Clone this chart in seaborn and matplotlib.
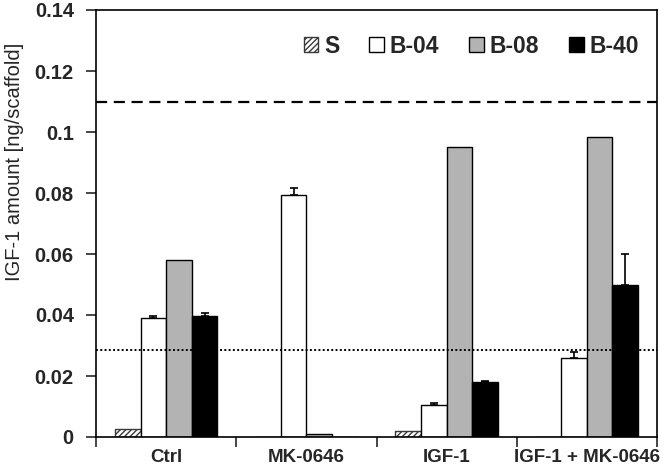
import numpy as np
import pandas as pd
import matplotlib
matplotlib.use("Agg")
import matplotlib.pyplot as plt
import seaborn as sns
from matplotlib.ticker import FixedLocator, NullFormatter

categories = ["Ctrl", "MK-0646", "IGF-1", "IGF-1 + MK-0646"]
series = ["S", "B-04", "B-08", "B-40"]
val_S = [0.0025, 0.0, 0.002, 0.0]
val_B04 = [0.039, 0.0795, 0.0105, 0.026]
val_B08 = [0.058, 0.001, 0.095, 0.0985]
val_B40 = [0.0398, 0.0, 0.018, 0.050]
err_S = [0.0, 0.0, 0.0, 0.0]
err_B04 = [0.0008, 0.002, 0.0005, 0.002]
err_B08 = [0.0, 0.0, 0.0, 0.0]
err_B40 = [0.0008, 0.0, 0.0005, 0.010]
dashed_level = 0.11
dotted_level = 0.0285
yticks = [0, 0.02, 0.04, 0.06, 0.08, 0.1, 0.12, 0.14]
ytick_labels = ["0", "0.02", "0.04", "0.06", "0.08", "0.1", "0.12", "0.14"]

values = [val_S, val_B04, val_B08, val_B40]
errors = [err_S, err_B04, err_B08, err_B40]
rows = []
for s, vals in zip(series, values):
    for c, v in zip(categories, vals):
        rows.append({"cat": c, "series": s, "value": v})
df = pd.DataFrame(rows)

sns.set_style("white")
plt.rcParams["font.family"] = ["Liberation Sans", "DejaVu Sans"]
plt.rcParams["hatch.color"] = "#3a3a3a"
plt.rcParams["hatch.linewidth"] = 1.0

fig = plt.figure(figsize=(6.67, 4.69), dpi=100)
ax = fig.add_axes([96 / 667, 1 - 437 / 469, (657 - 96) / 667, (437 - 10) / 469])

palette = {"S": "white", "B-04": "white", "B-08": "#b3b3b3", "B-40": "black"}
sns.barplot(data=df, x="cat", y="value", hue="series", order=categories,
            hue_order=series, palette=palette, width=0.73, errorbar=None,
            edgecolor="black", linewidth=1.0, ax=ax, saturation=1, legend=False)

bar_containers = list(ax.containers)
for cont, s, errs in zip(bar_containers, series, errors):
    for patch, e in zip(cont.patches, errs):
        if s == "S":
            patch.set_hatch("//////")
            patch.set_edgecolor("#3a3a3a")
        if e > 0:
            xc = patch.get_x() + patch.get_width() / 2
            ax.errorbar([xc], [patch.get_height()], yerr=[[0], [e]], fmt="none",
                        ecolor="black", elinewidth=1.2, capsize=3, capthick=1.2)

ax.axhline(dashed_level, color="black", lw=1.6, ls=(0, (5, 3)), zorder=5)
ax.axhline(dotted_level, color="black", lw=1.4, ls=(0, (1, 1.2)), zorder=5)

ax.set_ylim(0, 0.14)
ax.set_xlim(-0.5, 3.5)
ax.set_yticks(yticks)
ax.set_yticklabels(ytick_labels, fontsize=14.5, fontweight="bold")
ax.xaxis.set_major_locator(FixedLocator([-0.5, 0.5, 1.5, 2.5, 3.5]))
ax.xaxis.set_major_formatter(NullFormatter())
ax.xaxis.set_minor_locator(FixedLocator([0, 1, 2, 3]))
ax.set_xticklabels(categories, minor=True, fontsize=13.5, fontweight="bold")
ax.tick_params(axis="x", which="major", direction="out", length=7, width=1.2, bottom=True)
ax.tick_params(axis="x", which="minor", length=0, pad=9)
ax.tick_params(axis="y", direction="out", length=7, width=1.2, left=True, pad=9)
ax.set_xlabel("")
ax.set_ylabel("IGF-1 amount [ng/scaffold]", fontsize=14.5)
ax.yaxis.set_label_coords(-0.128, 0.645)
for sp in ax.spines.values():
    sp.set_visible(True)
    sp.set_color("black")
    sp.set_linewidth(1.2)

handles = [cont.patches[0] for cont in bar_containers]
leg = ax.legend(handles, series, loc="upper right", bbox_to_anchor=(1.005, 0.99), ncol=4,
                frameon=False, handlelength=0.65, handleheight=0.65, handletextpad=0.25,
                columnspacing=1.3, prop={"size": 16.5, "weight": "bold"})

fig.savefig("out.png", dpi=100)
